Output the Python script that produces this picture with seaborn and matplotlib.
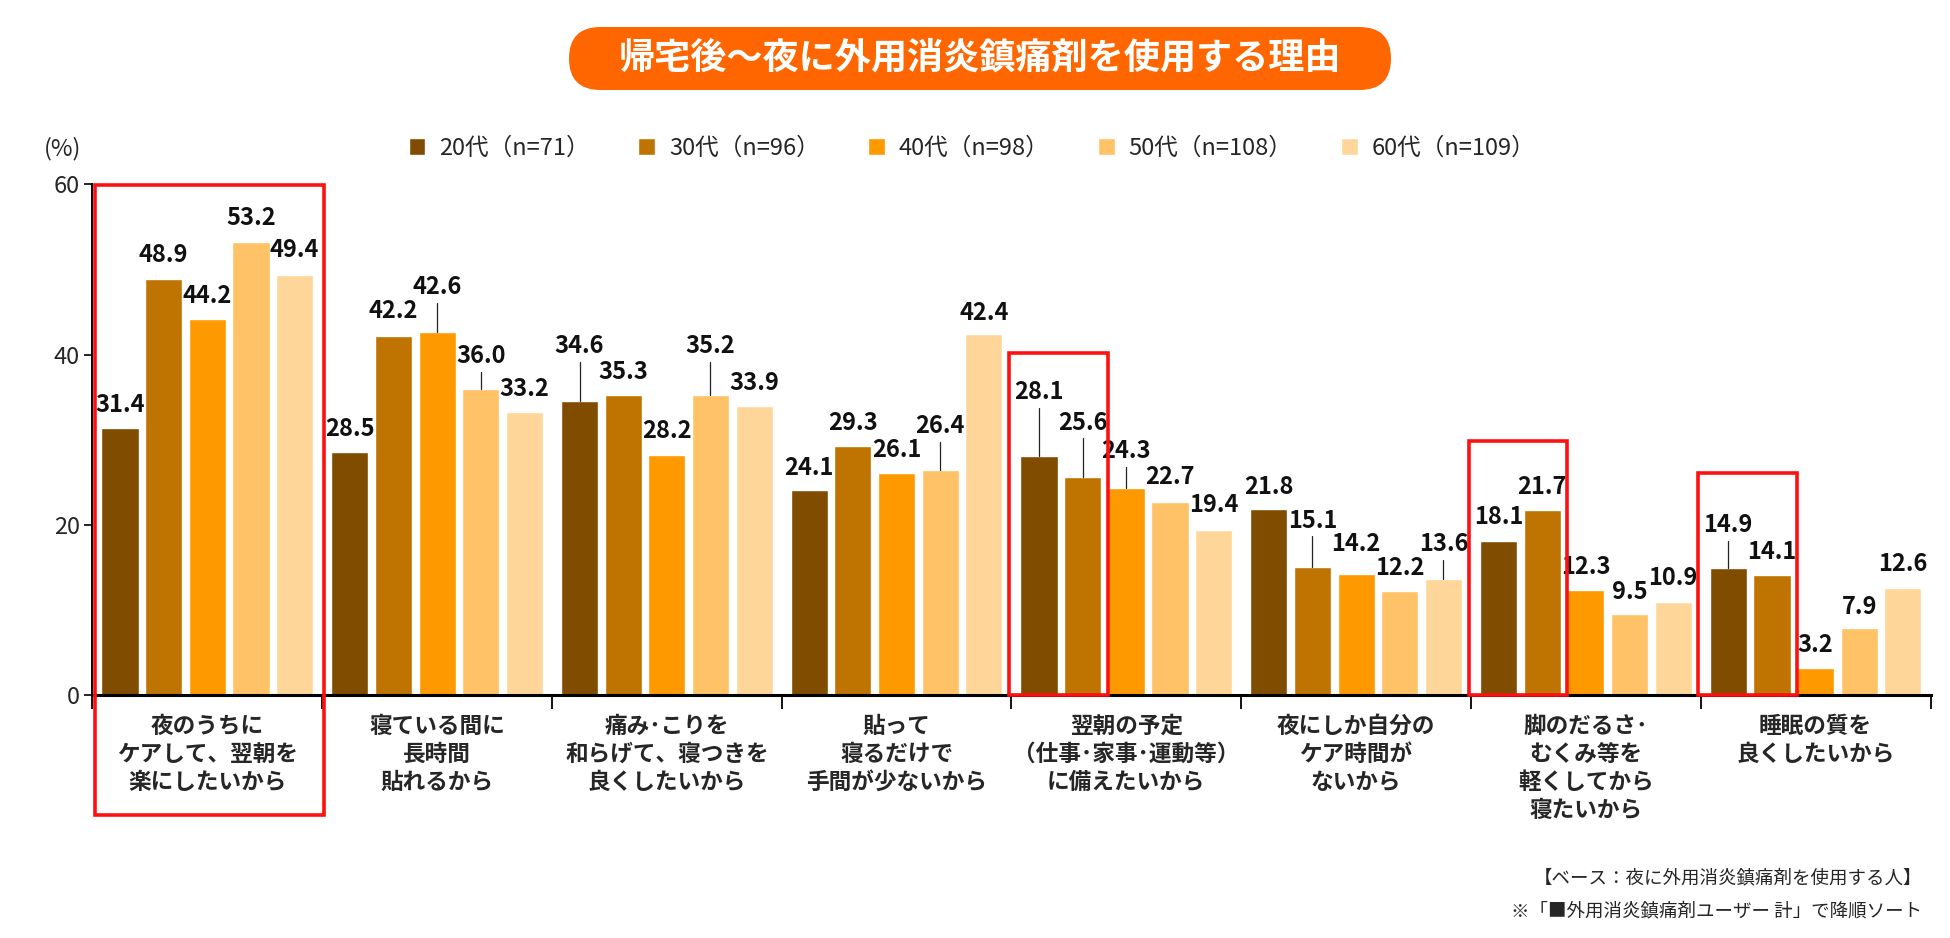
import numpy as np
import pandas as pd
import matplotlib
matplotlib.use("Agg")
import matplotlib.pyplot as plt
from matplotlib.patches import Rectangle, FancyBboxPatch
import seaborn as sns

# --- data -------------------------------------------------------------
categories = [
    "夜のうちに\nケアして、翌朝を\n楽にしたいから",
    "寝ている間に\n長時間\n貼れるから",
    "痛み･こりを\n和らげて、寝つきを\n良くしたいから",
    "貼って\n寝るだけで\n手間が少ないから",
    "翌朝の予定\n（仕事･家事･運動等）\nに備えたいから",
    "夜にしか自分の\nケア時間が\nないから",
    "脚のだるさ･\nむくみ等を\n軽くしてから\n寝たいから",
    "睡眠の質を\n良くしたいから",
]
ages = ["20代（n=71）", "30代（n=96）", "40代（n=98）", "50代（n=108）", "60代（n=109）"]

v20 = [31.4, 28.5, 34.6, 24.1, 28.1, 21.8, 18.1, 14.9]
v30 = [48.9, 42.2, 35.3, 29.3, 25.6, 15.1, 21.7, 14.1]
v40 = [44.2, 42.6, 28.2, 26.1, 24.3, 14.2, 12.3, 3.2]
v50 = [53.2, 36.0, 35.2, 26.4, 22.7, 12.2, 9.5, 7.9]
v60 = [49.4, 33.2, 33.9, 42.4, 19.4, 13.6, 10.9, 12.6]

colors = ["#7F4C00", "#BF7300", "#FF9900", "#FFC266", "#FFD699"]

# label lift above each bar (layout only), leader line drawn when lifted far
off20 = [2.7, 2.7, 6.4, 2.6, 7.5, 2.7, 2.8, 5.1]
off30 = [2.8, 2.9, 2.7, 2.7, 6.4, 5.4, 2.7, 2.7]
off40 = [2.7, 5.3, 2.8, 2.7, 4.4, 3.5, 2.7, 2.7]
off50 = [2.9, 3.8, 5.8, 5.2, 2.9, 2.7, 2.6, 2.5]
off60 = [2.9, 2.7, 2.8, 2.5, 2.9, 4.1, 2.8, 2.8]

series = [v20, v30, v40, v50, v60]
offsets = [off20, off30, off40, off50, off60]

df = pd.DataFrame({
    "reason": categories * len(ages),
    "age": np.repeat(ages, len(categories)),
    "value": np.concatenate(series),
})

# --- style ------------------------------------------------------------
sns.set_style("white")
plt.rcParams["font.family"] = ["Noto Sans CJK JP", "DejaVu Sans"]

fig = plt.figure(figsize=(19.5, 9.38), dpi=100)
ax = fig.add_axes([0.0474, 0.259, 0.9426, 0.5445])

sns.barplot(data=df, x="reason", y="value", hue="age", palette=colors,
            width=0.95, gap=0.15, saturation=1, ax=ax)

ax.set_xlim(-0.5, 7.5)
ax.set_ylim(0, 60)
ax.set_yticks([0, 20, 40, 60])
ax.set_xlabel("")
ax.set_ylabel("")
for s in ["top", "right"]:
    ax.spines[s].set_visible(False)
ax.spines["left"].set_color("black")
ax.spines["left"].set_linewidth(1.4)
ax.spines["bottom"].set_color("black")
ax.spines["bottom"].set_linewidth(2.2)

ax.tick_params(axis="y", labelsize=17, length=6, width=1.2, color="black", pad=3, left=True)
ax.tick_params(axis="x", which="major", length=0, pad=14)
ax.set_xticks(np.arange(-0.5, 8, 1), minor=True)
ax.tick_params(axis="x", which="minor", length=10, width=1.3, color="black", bottom=True)
for lab in ax.get_xticklabels():
    lab.set_fontweight("bold")
    lab.set_fontsize(16.3)
    lab.set_linespacing(1.28)

# value labels
for cont, offs in zip(ax.containers, offsets):
    for bar, off in zip(cont, offs):
        x = bar.get_x() + bar.get_width() / 2
        h = bar.get_height()
        ax.text(x, h + off, f"{h:.1f}", ha="center", va="center",
                fontsize=17, fontweight="bold", color="#111111", zorder=5)
        if off > 3.6:
            ax.plot([x, x], [h, h + off - 1.85], color="#222222", lw=0.9, zorder=4)

# red highlight boxes
red = "#FF1010"
ax.add_patch(Rectangle((-0.49, -14.1), 1.0, 74.0, fill=False, ec=red, lw=2.6,
                       clip_on=False, zorder=6))
ax.add_patch(Rectangle((3.49, 0), 0.43, 40.2, fill=False, ec=red, lw=2.6,
                       clip_on=False, zorder=6))
ax.add_patch(Rectangle((5.49, 0), 0.43, 29.9, fill=False, ec=red, lw=2.6,
                       clip_on=False, zorder=6))
ax.add_patch(Rectangle((6.49, 0), 0.43, 26.1, fill=False, ec=red, lw=2.6,
                       clip_on=False, zorder=6))

# legend across the top
handles, labels = ax.get_legend_handles_labels()
ax.get_legend().remove()
fig.legend(handles, labels, ncol=5, loc="center", bbox_to_anchor=(0.4985, 0.842),
           frameon=False, fontsize=17, handlelength=0.7, handleheight=0.7,
           handletextpad=0.6, columnspacing=2.05)

fig.text(0.0225, 0.842, "(%)", fontsize=17, va="center", ha="left")

# title pill
pill = FancyBboxPatch((5.69, 8.48), 8.22, 0.63,
                      boxstyle="round,pad=0,rounding_size=0.315",
                      transform=fig.dpi_scale_trans, fc="#FF6600", ec="none")
fig.patches.append(pill)
fig.text(0.5026, 0.9376, "帰宅後～夜に外用消炎鎮痛剤を使用する理由", color="white",
         fontsize=26, fontweight="bold", ha="center", va="center")

# footnotes
fig.text(0.9857, 0.064, "【ベース：夜に外用消炎鎮痛剤を使用する人】", fontsize=13.3,
         ha="right", va="center")
fig.text(0.9857, 0.028, "※「■外用消炎鎮痛剤ユーザー 計」で降順ソート", fontsize=13.3,
         ha="right", va="center")

fig.savefig("out.png", dpi=100, facecolor="white")
